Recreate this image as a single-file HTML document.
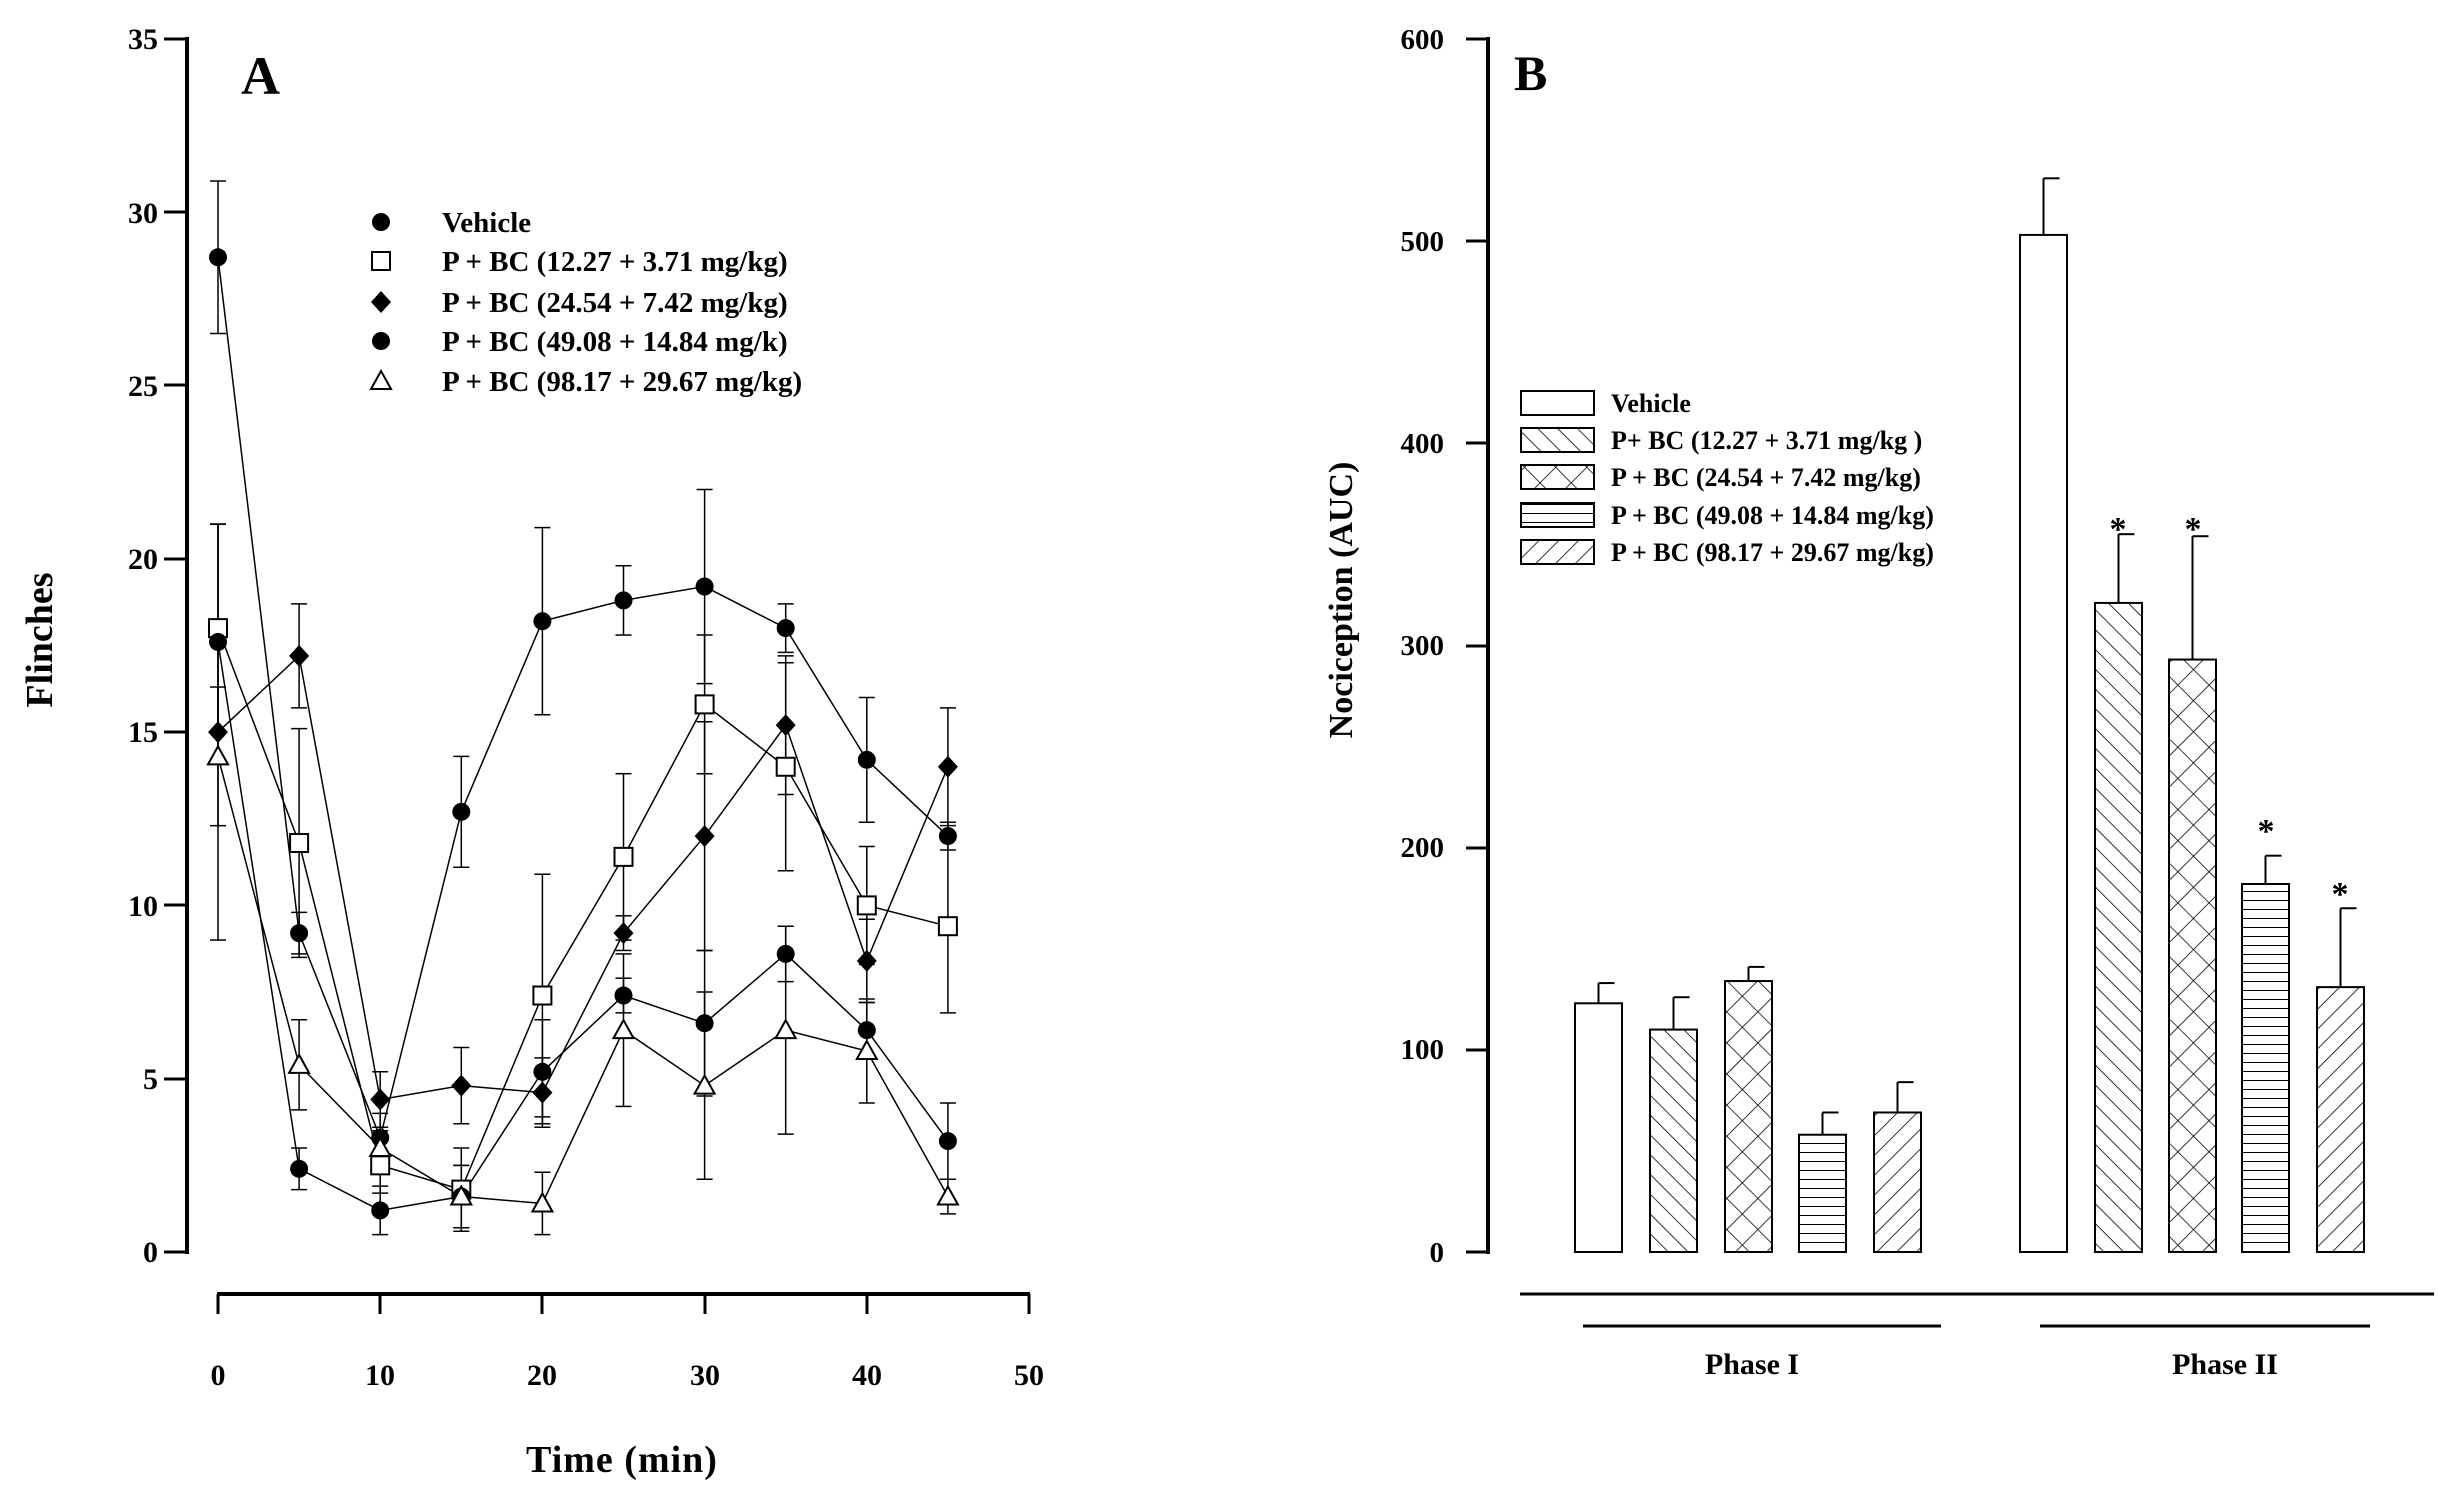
<!DOCTYPE html>
<html><head><meta charset="utf-8"><style>
html,body{margin:0;padding:0;background:#fff}
svg{display:block}
text{font-family:"Liberation Serif",serif;font-weight:bold;fill:#000}
</style></head><body>
<svg id="s" width="2438" height="1495" viewBox="0 0 2438 1495" xmlns="http://www.w3.org/2000/svg">
<defs>
<pattern id="pf" width="14" height="14" patternUnits="userSpaceOnUse" patternTransform="rotate(45)"><rect width="14" height="14" fill="#fff"/><line x1="0" y1="0" x2="0" y2="14" stroke="#000" stroke-width="1.6"/></pattern>
<pattern id="pb" width="14" height="14" patternUnits="userSpaceOnUse" patternTransform="rotate(-45)"><rect width="14" height="14" fill="#fff"/><line x1="0" y1="0" x2="0" y2="14" stroke="#000" stroke-width="1.6"/></pattern>
<pattern id="px" width="22" height="22" patternUnits="userSpaceOnUse" patternTransform="rotate(45)"><rect width="22" height="22" fill="#fff"/><line x1="0" y1="0" x2="0" y2="22" stroke="#000" stroke-width="1.6"/><line x1="0" y1="0" x2="22" y2="0" stroke="#000" stroke-width="1.6"/></pattern>
<pattern id="ph" width="10" height="9" patternUnits="userSpaceOnUse"><rect width="10" height="9" fill="#fff"/><line x1="0" y1="0" x2="10" y2="0" stroke="#000" stroke-width="2"/></pattern>
</defs>
<g stroke="#000" stroke-width="3">
<line x1="187" y1="37" x2="187" y2="1254" stroke-width="4"/>
<line x1="164" y1="39" x2="187" y2="39"/><line x1="164" y1="212" x2="187" y2="212"/><line x1="164" y1="385" x2="187" y2="385"/><line x1="164" y1="559" x2="187" y2="559"/><line x1="164" y1="732" x2="187" y2="732"/><line x1="164" y1="905" x2="187" y2="905"/><line x1="164" y1="1079" x2="187" y2="1079"/><line x1="164" y1="1252" x2="187" y2="1252"/>
<line x1="217" y1="1294" x2="1030" y2="1294" stroke-width="4"/>
<line x1="218" y1="1294" x2="218" y2="1314"/><line x1="380" y1="1294" x2="380" y2="1314"/><line x1="542" y1="1294" x2="542" y2="1314"/><line x1="705" y1="1294" x2="705" y2="1314"/><line x1="867" y1="1294" x2="867" y2="1314"/><line x1="1029" y1="1294" x2="1029" y2="1314"/>
<line x1="1488" y1="37" x2="1488" y2="1254" stroke-width="4"/>
<line x1="1466" y1="39" x2="1488" y2="39"/><line x1="1466" y1="241" x2="1488" y2="241"/><line x1="1466" y1="443" x2="1488" y2="443"/><line x1="1466" y1="646" x2="1488" y2="646"/><line x1="1466" y1="848" x2="1488" y2="848"/><line x1="1466" y1="1050" x2="1488" y2="1050"/><line x1="1466" y1="1252" x2="1488" y2="1252"/>
<line x1="1520" y1="1294" x2="2434" y2="1294"/>
<line x1="1583" y1="1326" x2="1941" y2="1326"/><line x1="2040" y1="1326" x2="2370" y2="1326"/>
</g>
<g id="g"></g>
<text x="241" y="94" font-size="54">A</text>
<g font-size="30" text-anchor="end">
<text x="158" y="49">35</text><text x="158" y="223">30</text><text x="158" y="396">25</text><text x="158" y="569">20</text><text x="158" y="742">15</text><text x="158" y="916">10</text><text x="158" y="1089">5</text><text x="158" y="1262">0</text>
</g>
<g font-size="30" text-anchor="middle">
<text x="218" y="1385">0</text><text x="380" y="1385">10</text><text x="542" y="1385">20</text><text x="705" y="1385">30</text><text x="867" y="1385">40</text><text x="1029" y="1385">50</text>
</g>
<text x="622" y="1472" font-size="38" text-anchor="middle" letter-spacing="1">Time (min)</text>
<text transform="translate(52,640) rotate(-90)" font-size="38" text-anchor="middle">Flinches</text>
<g font-size="29">
<text x="442" y="232">Vehicle</text>
<text x="442" y="271">P + BC (12.27 + 3.71 mg/kg)</text>
<text x="442" y="312">P + BC (24.54 + 7.42 mg/kg)</text>
<text x="442" y="351">P + BC (49.08 + 14.84 mg/k)</text>
<text x="442" y="391">P + BC (98.17 + 29.67 mg/kg)</text>
</g>
<text x="1514" y="90" font-size="50">B</text>
<g font-size="29" text-anchor="end">
<text x="1444" y="49">600</text><text x="1444" y="251">500</text><text x="1444" y="453">400</text><text x="1444" y="655">300</text><text x="1444" y="857">200</text><text x="1444" y="1059">100</text><text x="1444" y="1262">0</text>
</g>
<text transform="translate(1352,600) rotate(-90)" font-size="34" text-anchor="middle">Nociception (AUC)</text>
<g font-size="26">
<text x="1611" y="412">Vehicle</text>
<text x="1611" y="449">P+ BC (12.27 + 3.71 mg/kg )</text>
<text x="1611" y="486">P + BC (24.54 + 7.42 mg/kg)</text>
<text x="1611" y="524">P + BC (49.08 + 14.84 mg/kg)</text>
<text x="1611" y="561">P + BC (98.17 + 29.67 mg/kg)</text>
</g>
<g font-size="30" text-anchor="middle">
<text x="1752" y="1374">Phase I</text><text x="2225" y="1374">Phase II</text>
</g>
<g font-size="34" text-anchor="middle" fill="#333">
<text x="2118" y="540">*</text><text x="2193" y="540">*</text><text x="2266" y="842">*</text><text x="2340" y="905">*</text>
</g>
<script>
const NS="http://www.w3.org/2000/svg",G=document.getElementById('g');
function el(t,a){const e=document.createElementNS(NS,t);for(const k in a)e.setAttribute(k,a[k]);G.appendChild(e);return e;}
function ln(x1,y1,x2,y2,w){el('line',{x1,y1,x2,y2,stroke:'#000','stroke-width':w||2});}
const X=t=>218+t*16.22,Y=v=>1252-v*34.66;
function mk(type,x,y){
 if(type=='c')el('circle',{cx:x,cy:y,r:9,fill:'#000'});
 else if(type=='s')el('rect',{x:x-9,y:y-9,width:18,height:18,fill:'#fff',stroke:'#000','stroke-width':2});
 else if(type=='d')el('polygon',{points:`${x},${y-11} ${x+10},${y} ${x},${y+11} ${x-10},${y}`,fill:'#000'});
 else if(type=='t')el('polygon',{points:`${x},${y-10} ${x+10},${y+8} ${x-10},${y+8}`,fill:'#fff',stroke:'#000','stroke-width':2});
}
const S=[
 ['c',[28.7,9.2,3.3,12.7,18.2,18.8,19.2,18.0,14.2,12.0],[2.2,0.6,0.7,1.6,2.7,1.0,2.8,0.7,1.8,0.4]],
 ['s',[18.0,11.8,2.5,1.8,7.4,11.4,15.8,14.0,10.0,9.4],[3.0,3.3,0.8,1.2,3.5,2.4,2.0,3.0,1.7,2.5]],
 ['d',[15.0,17.2,4.4,4.8,4.6,9.2,12.0,15.2,8.4,14.0],[6.0,1.5,0.8,1.1,1.0,0.5,3.3,2.0,1.2,1.7]],
 ['c',[17.6,2.4,1.2,1.6,5.2,7.4,6.6,8.6,6.4,3.2],[3.4,0.6,0.7,0.9,1.5,0.5,2.1,0.8,0.8,1.1]],
 ['t',[14.3,5.4,3.0,1.6,1.4,6.4,4.8,6.4,5.8,1.6],[2.0,1.3,0.5,0.9,0.9,2.2,2.7,3.0,1.5,0.5]]
];
S.forEach(([t,v,e])=>{
 v.forEach((a,i)=>{const x=X(i*5);ln(x,Y(a-e[i]),x,Y(a+e[i]),1.5);ln(x-8,Y(a+e[i]),x+8,Y(a+e[i]),1.5);ln(x-8,Y(a-e[i]),x+8,Y(a-e[i]),1.5);});
 el('polyline',{points:v.map((a,i)=>X(i*5)+','+Y(a)).join(' '),fill:'none',stroke:'#000','stroke-width':1.5});
});
S.forEach(([t,v])=>v.forEach((a,i)=>mk(t,X(i*5),Y(a))));
[['c',222],['s',261],['d',302],['c',341],['t',381]].forEach(([t,y])=>mk(t,381,y));
const YB=v=>1252-v*2.022;
const fills=['#fff','url(#pb)','url(#px)','url(#ph)','url(#pf)'];
const bx=[1575,1650,1725,1799,1874,2020,2095,2169,2242,2317];
const bv=[123,110,134,58,69,503,321,293,182,131],be=[133,126,141,69,84,531,355,354,196,170];
bx.forEach((x,i)=>{const cx=x+23.5;ln(cx,YB(be[i]),cx,YB(bv[i]),2);ln(cx,YB(be[i]),cx+16,YB(be[i]),2);
 el('rect',{x,y:YB(bv[i]),width:47,height:YB(0)-YB(bv[i]),fill:fills[i%5],stroke:'#000','stroke-width':2});});
[403,440,477,515,552].forEach((y,i)=>el('rect',{x:1521,y:y-12,width:73,height:24,fill:fills[i],stroke:'#000','stroke-width':2}));
</script>
</svg>
</body></html>
